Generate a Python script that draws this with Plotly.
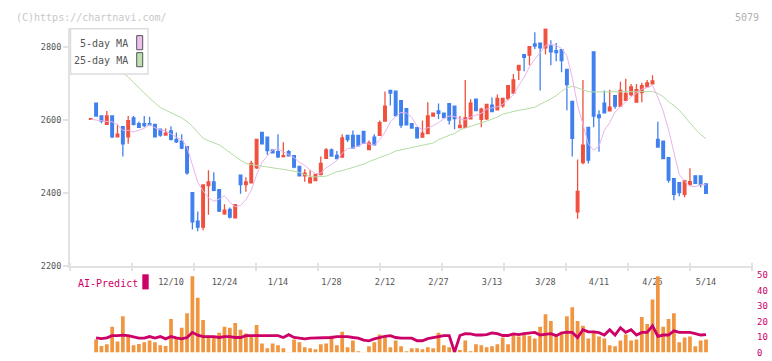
import plotly.graph_objects as go
import pandas as pd

W, H = 772, 361


def px(x):
    return x / W


def py(y):
    return 1 - y / H


# ---------------- data ----------------
opens = [2602, 2646, 2611, 2588, 2611, 2554, 2582, 2554, 2606, 2590,
         2590, 2590, 2588, 2575, 2559, 2570, 2547, 2542, 2527, 2401,
         2323, 2306, 2420, 2430, 2409, 2343, 2355, 2332, 2449, 2423,
         2428, 2469, 2566, 2553, 2518, 2513, 2500, 2513, 2502, 2473,
         2447, 2428, 2434, 2450, 2495, 2518, 2503, 2498, 2558, 2558,
         2558, 2569, 2519, 2553, 2558, 2597, 2681, 2679, 2653, 2631,
         2590, 2579, 2553, 2563, 2611, 2625, 2619, 2645, 2638, 2579,
         2580, 2603, 2657, 2602, 2603, 2641, 2628, 2639, 2659, 2674,
         2737, 2779, 2778, 2809, 2811, 2798, 2803, 2790, 2793, 2739,
         2651, 2348, 2483, 2580, 2787, 2614, 2646, 2625, 2667, 2638,
         2654, 2670, 2649, 2675, 2691, 2699, 2547, 2542, 2497, 2439,
         2428, 2396, 2423, 2447, 2447, 2425]
highs = [2604, 2646, 2611, 2625, 2611, 2588, 2582, 2611, 2611, 2596,
         2611, 2609, 2590, 2577, 2577, 2583, 2566, 2561, 2527, 2401,
         2349, 2422, 2462, 2457, 2410, 2369, 2360, 2368, 2450, 2443,
         2488, 2548, 2566, 2553, 2518, 2561, 2539, 2518, 2502, 2473,
         2465, 2462, 2451, 2500, 2523, 2522, 2515, 2561, 2558, 2571,
         2558, 2569, 2544, 2561, 2599, 2678, 2681, 2681, 2655, 2631,
         2590, 2579, 2599, 2649, 2620, 2645, 2619, 2645, 2638, 2611,
         2710, 2657, 2657, 2634, 2643, 2662, 2670, 2659, 2694, 2726,
         2750, 2780, 2801, 2841, 2811, 2851, 2819, 2811, 2795, 2739,
         2651, 2492, 2710, 2580, 2787, 2627, 2681, 2683, 2667, 2705,
         2713, 2699, 2699, 2702, 2710, 2723, 2595, 2542, 2497, 2441,
         2428, 2436, 2468, 2448, 2447, 2425]
lows = [2602, 2610, 2591, 2588, 2551, 2554, 2500, 2535, 2585, 2578,
        2580, 2587, 2552, 2554, 2559, 2544, 2537, 2520, 2450, 2300,
        2295, 2298, 2340, 2405, 2348, 2340, 2330, 2332, 2398, 2403,
        2428, 2466, 2535, 2505, 2510, 2496, 2497, 2502, 2468, 2447,
        2431, 2428, 2434, 2450, 2495, 2501, 2494, 2497, 2540, 2521,
        2528, 2536, 2519, 2532, 2558, 2595, 2640, 2610, 2578, 2587,
        2577, 2551, 2553, 2563, 2610, 2603, 2605, 2588, 2575, 2578,
        2580, 2603, 2626, 2580, 2600, 2623, 2626, 2634, 2654, 2674,
        2710, 2734, 2750, 2795, 2681, 2780, 2750, 2761, 2731, 2627,
        2500, 2329, 2479, 2481, 2580, 2513, 2620, 2625, 2631, 2638,
        2654, 2665, 2649, 2649, 2691, 2699, 2526, 2494, 2428, 2380,
        2391, 2388, 2423, 2425, 2415, 2397]
closes = [2604, 2611, 2597, 2611, 2554, 2561, 2535, 2598, 2588, 2580,
          2585, 2587, 2554, 2559, 2564, 2547, 2540, 2523, 2455, 2321,
          2306, 2422, 2430, 2407, 2350, 2353, 2334, 2368, 2423, 2430,
          2481, 2547, 2535, 2516, 2510, 2499, 2502, 2502, 2471, 2447,
          2454, 2441, 2451, 2481, 2518, 2501, 2494, 2551, 2546, 2523,
          2529, 2536, 2537, 2532, 2593, 2638, 2674, 2612, 2586, 2587,
          2578, 2551, 2564, 2611, 2619, 2618, 2607, 2600, 2604, 2585,
          2606, 2646, 2626, 2630, 2643, 2623, 2659, 2659, 2694, 2710,
          2750, 2772, 2801, 2803, 2798, 2849, 2787, 2785, 2763, 2697,
          2550, 2404, 2531, 2490, 2611, 2607, 2620, 2635, 2638, 2681,
          2673, 2691, 2683, 2694, 2702, 2707, 2526, 2494, 2435, 2396,
          2401, 2433, 2431, 2426, 2423, 2399]

# first four 5-day MA points (need days before the window)
ma5_head = [2602, 2600, 2597, 2596]

ma25 = [2810, 2797, 2785, 2772, 2758, 2745, 2730, 2718, 2703, 2688,
        2674, 2660, 2647, 2634, 2627, 2620, 2614, 2606, 2596, 2583,
        2566, 2550, 2543, 2537, 2532, 2522, 2510, 2500, 2490, 2481,
        2478, 2476, 2474, 2472, 2470, 2468, 2466, 2463, 2460, 2456,
        2450, 2445, 2444, 2444, 2446, 2452, 2458, 2461, 2465, 2470,
        2474, 2479, 2486, 2491, 2497, 2503, 2508, 2515, 2518, 2521,
        2524, 2527, 2530, 2534, 2537, 2546, 2553, 2558, 2563, 2573,
        2578, 2582, 2586, 2592, 2597, 2602, 2608, 2616, 2620, 2623,
        2627, 2629, 2631, 2635, 2643, 2650, 2658, 2667, 2679, 2688,
        2693, 2688, 2682, 2678, 2677, 2677, 2677, 2677, 2677, 2677,
        2677, 2677, 2677, 2677, 2679, 2678, 2673, 2664, 2650, 2640,
        2627, 2610, 2590, 2575, 2560, 2549]

volume = [None, 8.4, 4.3, 5.3, 16.6, 7.2, 23.4, 10.9, 4.7, 5.5,
          6.6, 7.8, 6.6, 4.7, 4.3, 21.6, 8.9, 15.9, 25.3, 49.1,
          35.3, 20.9, 10.9, 9.7, 12.8, 16.6, 15.9, 19.1, 14.7, 12.2,
          10.9, 17.8, 5.9, 2.8, 5.9, 4.7, 2.8, 0.3, 8.4, 6.6,
          3.4, 2.8, 2.2, 5.3, 5.9, 10.9, 4.7, 13.4, 3.4, 7.8,
          0.9, 0.3, 4.1, 6.6, 11.6, 10.0, 3.4, 7.8, 4.1, 0.9,
          2.8, 2.8, 2.2, 3.4, 2.8, 12.8, 4.7, 3.4, 1.6, 1.6,
          7.8, 0.9, 5.3, 4.7, 3.4, 4.1, 5.3, 9.7, 5.3, 11.6,
          10.3, 11.6, 10.9, 9.1, 16.6, 24.7, 20.3, 10.3, 13.4, 23.4,
          29.1, 20.3, 17.2, 9.1, 14.1, 10.3, 9.1, 4.7, 4.1, 7.8,
          11.6, 7.8, 8.4, 22.8, 18.4, 34.1, 49.1, 16.6, 21.6, 25.3,
          6.6, 9.7, 10.3, 4.1, 7.8, 8.4]

ai_predict = [None, 9.5, 9.0, 9.5, 10.9, 10.9, 11.2, 10.9, 10.3, 9.3,
              9.3, 10.3, 9.3, 10.3, 8.8, 10.3, 9.5, 8.8, 9.7, 13.0,
              11.2, 10.3, 10.3, 10.3, 9.7, 10.3, 10.3, 9.7, 9.7, 10.9,
              10.9, 10.9, 10.9, 10.9, 10.9, 10.9, 9.7, 11.5, 9.7, 9.3,
              8.8, 9.3, 9.3, 9.3, 9.7, 9.7, 10.3, 10.3, 10.3, 9.7,
              9.3, 8.0, 7.6, 8.8, 9.7, 10.5, 10.9, 9.7, 9.3, 9.3,
              9.3, 7.6, 7.6, 9.0, 9.7, 10.3, 10.9, 10.9, 0.3, 11.0,
              12.2, 12.0, 11.3, 11.3, 11.6, 12.6, 12.2, 11.0, 11.0, 12.0,
              11.6, 12.2, 12.6, 13.0, 11.3, 11.6, 12.2, 10.9, 12.6, 13.2,
              13.0, 9.7, 14.7, 13.3, 13.3, 12.8, 11.3, 14.7, 11.3, 16.0,
              13.0, 14.7, 11.3, 13.0, 13.0, 17.2, 10.5, 11.3, 11.3, 14.0,
              13.0, 13.0, 13.0, 12.2, 11.3, 11.6]

tick_days = [15, 25, 35, 45, 55, 65, 75, 85, 95, 105, 115]
tick_labels = ["12/10", "12/24", "1/14", "1/28", "2/12", "2/27",
               "3/13", "3/28", "4/11", "4/25", "5/14"]
price_ticks = [2200, 2400, 2600, 2800]
pred_ticks = [0, 10, 20, 30, 40, 50]

# ---------------- derived ----------------
days = list(range(len(closes)))
ma5 = pd.Series(closes, dtype=float).rolling(5).mean().tolist()
ma5[:4] = ma5_head

RED = "#f0503e"
BLUE = "#4080ee"
ORANGE = "#f09640"
MAG = "#cc0066"
PINK = "#e8b4ea"
GREEN = "#b4dca2"
AX = "#e2e2e2"
TXT = "#555555"
FONT = "DejaVu Sans Mono"

# pixel layout of the plotting area
PL, PR = 70, 752          # left / right of plot area
DAY0, STEP = 90.75, 5.35  # pixel of first candle, pixels per day
xr = [(PL - DAY0) / STEP, (PR - DAY0) / STEP]
Y_BOT, Y_TOP = 268.3, 24
PRICE_PER_PX = 1 / 0.375
yr = [2200, 2200 + (Y_BOT - Y_TOP) * PRICE_PER_PX]

fig = go.Figure()

fig.add_trace(go.Scatter(x=days, y=ma25, mode="lines", line=dict(color=GREEN, width=1),
                         xaxis="x", yaxis="y", hoverinfo="skip"))
fig.add_trace(go.Scatter(x=days, y=ma5, mode="lines", line=dict(color=PINK, width=1),
                         xaxis="x", yaxis="y", hoverinfo="skip"))
fig.add_trace(go.Candlestick(
    x=days, open=opens, high=highs, low=lows, close=closes,
    increasing=dict(line=dict(color=RED, width=1.3), fillcolor=RED),
    decreasing=dict(line=dict(color=BLUE, width=1.3), fillcolor=BLUE),
    whiskerwidth=0, xaxis="x", yaxis="y"))

fig.add_trace(go.Bar(x=days, y=volume, marker=dict(color=ORANGE, line=dict(width=0)),
                     width=0.7, xaxis="x2", yaxis="y2"))
fig.add_trace(go.Scatter(x=days, y=ai_predict, mode="lines",
                         line=dict(color=MAG, width=2.8), xaxis="x2", yaxis="y2"))

fig.update_layout(
    width=W, height=H, margin=dict(l=0, r=0, t=0, b=0),
    paper_bgcolor="white", plot_bgcolor="white",
    showlegend=False, boxgap=0.3, bargap=0.3, hovermode=False,
    font=dict(family=FONT, color=TXT),
    xaxis=dict(domain=[px(PL), px(PR)], range=xr, anchor="y",
               showgrid=False, zeroline=False, showline=True,
               linecolor=AX, linewidth=2, rangeslider=dict(visible=False),
               tickmode="array", tickvals=tick_days, ticktext=tick_labels,
               ticks="", ticklabelstandoff=7,
               tickfont=dict(family=FONT, size=8.5, color=TXT)),
    yaxis=dict(domain=[py(Y_BOT), py(Y_TOP)], range=yr, anchor="x",
               showgrid=False, zeroline=False, showline=True,
               linecolor=AX, linewidth=2, ticks="outside", ticklen=5,
               tickcolor=AX, tickwidth=2,
               tickmode="array", tickvals=price_ticks,
               tickfont=dict(family=FONT, size=8.5, color=TXT)),
    xaxis2=dict(domain=[px(PL), px(PR)], range=xr, anchor="y2",
                visible=False),
    yaxis2=dict(domain=[py(357.5), py(277.5)], range=[0, 50], anchor="x2",
                side="right", showgrid=False, zeroline=False, showline=False,
                ticks="", tickmode="array", tickvals=pred_ticks,
                ticklabelstandoff=4,
                tickfont=dict(family=FONT, size=9, color=MAG)),
)

shapes = []
# x-axis tick marks every 62 px
for k in range(12):
    xx = PL + 62 * k
    shapes.append(dict(type="line", xref="paper", yref="paper",
                       x0=px(xx), x1=px(xx), y0=py(265), y1=py(273.5),
                       line=dict(color=AX, width=2)))
# legend box
shapes.append(dict(type="rect", xref="paper", yref="paper", layer="above",
                   x0=px(70.5), x1=px(148), y0=py(71), y1=py(24.5),
                   fillcolor="white", line=dict(color="#dddddd", width=1.5)))
shapes.append(dict(type="rect", xref="paper", yref="paper", layer="above",
                   x0=px(136.7), x1=px(142.7), y0=py(46), y1=py(31.5),
                   fillcolor="#ecc0ee", line=dict(color="#555555", width=1)))
shapes.append(dict(type="rect", xref="paper", yref="paper", layer="above",
                   x0=px(136.7), x1=px(142.7), y0=py(63.5), y1=py(49),
                   fillcolor="#bfe0b0", line=dict(color="#555555", width=1)))
# AI-Predict swatch
shapes.append(dict(type="rect", xref="paper", yref="paper", layer="above",
                   x0=px(142.3), x1=px(148.7), y0=py(292.5), y1=py(277),
                   fillcolor=MAG, line=dict(width=0)))
fig.update_layout(shapes=shapes)

ann = [
    dict(text="(C)https://chartnavi.com/", x=px(14), y=py(12.5),
         font=dict(size=10, color="#c8c8c8")),
    dict(text="5079", x=px(733), y=py(12.5), font=dict(size=10, color="#b0b0b0")),
    dict(text="5-day MA", x=px(129.5), y=py(39.5), xanchor="right",
         font=dict(size=10, color=TXT)),
    dict(text="25-day MA", x=px(129.5), y=py(57), xanchor="right",
         font=dict(size=10, color=TXT)),
    dict(text="AI-Predict", x=px(75.5), y=py(286.5), font=dict(size=10, color=MAG)),
]
annotations = []
for a in ann:
    d = dict(xref="paper", yref="paper", showarrow=False, yanchor="middle",
             xanchor=a.pop("xanchor", "left"))
    d.update(a)
    d["font"] = dict(family=FONT, **d["font"])
    annotations.append(d)
fig.update_layout(annotations=annotations)

fig.write_html("out.html",
               config={"displayModeBar": False, "staticPlot": True},
               post_script="document.body.style.margin='0';"
                           "document.body.style.overflow='hidden';")
